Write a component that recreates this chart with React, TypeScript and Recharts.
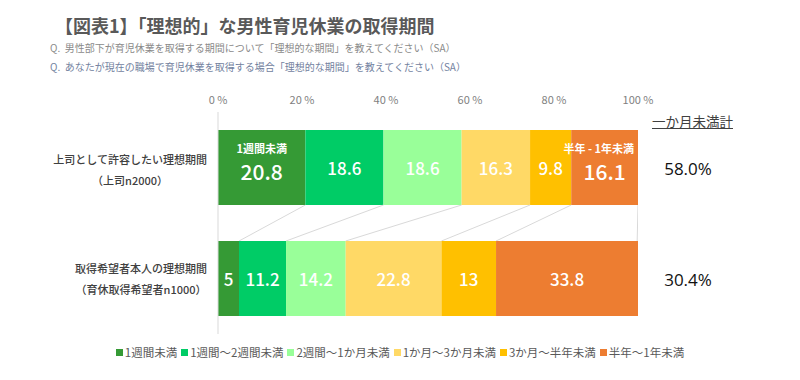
import { Bar, BarChart, LabelList, XAxis, YAxis } from "recharts";

const categories = ["上司として許容したい理想期間", "取得希望者本人の理想期間"];
const sampleLabels = ["（上司n2000）", "（育休取得希望者n1000）"];
const seriesNames = [
  "1週間未満",
  "1週間〜2週間未満",
  "2週間〜1か月未満",
  "1か月〜3か月未満",
  "3か月〜半年未満",
  "半年〜1年未満",
];
const seriesColors = ["#359a35", "#00cc66", "#99ff99", "#ffd966", "#ffc000", "#ed7d31"];
const under1Week = [20.8, 5];
const week1to2 = [18.6, 11.2];
const week2toMonth = [18.6, 14.2];
const month1to3 = [16.3, 22.8];
const month3toHalf = [9.8, 13];
const halfTo1Year = [16.1, 33.8];
const xTicks = [0, 20, 40, 60, 80, 100];
// small captions inside the top bar
const topCaptions: Record<number, string> = { 0: "1週間未満", 5: "半年 - 1年未満" };

const seriesValues = [under1Week, week1to2, week2toMonth, month1to3, month3toHalf, halfTo1Year];
const keys = seriesValues.map((_, i) => `s${i}`);
const data = categories.map((name, row) => {
  const d: Record<string, number | string> = { name };
  seriesValues.forEach((vals, i) => (d[keys[i]] = vals[row]));
  return d;
});
const monthTotals = categories.map((_, row) =>
  seriesValues.slice(0, 3).reduce((a, v) => a + v[row], 0)
);

const W = 800;
const H = 380;
const MARGIN = { top: 82, right: 0, bottom: 46, left: 0 };
const X_AXIS_H = 30;
const BAR_SIZE = 75;
const BAND = (H - MARGIN.top - X_AXIS_H - MARGIN.bottom) / categories.length;
const GAP = BAND - BAR_SIZE;
const FONT = "'Noto Sans CJK JP', 'Noto Sans', sans-serif";

const cum = (row: number, upto: number) =>
  seriesValues.slice(0, upto).reduce((a, v) => a + v[row], 0);

const makeShape = (si: number) => (props: any) => {
  const { x, y, width, height, index } = props;
  const rect = <rect x={x} y={y} width={width} height={height} fill={seriesColors[si]} />;
  if (index !== 0) return rect;
  // connector from top bar boundary to the same boundary on the next row
  const ppu = width / seriesValues[si][0];
  const left = x - cum(0, si) * ppu;
  const x2 = left + cum(1, si + 1) * ppu;
  return (
    <g>
      {rect}
      <line x1={x + width} y1={y + height} x2={x2} y2={y + height + GAP} stroke="#d9d9d9" strokeWidth={1} />
    </g>
  );
};

const makeLabel = (si: number) => (props: any) => {
  const { x, y, width, height, value, index } = props;
  const cx = x + width / 2;
  const cy = y + height / 2;
  const caption = index === 0 ? topCaptions[si] : undefined;
  return (
    <g fontFamily={FONT} fill="#fff">
      {caption && (
        <text
          x={si === 5 ? x + width - 4 : cx}
          y={cy - 20}
          textAnchor={si === 5 ? "end" : "middle"}
          dominantBaseline="central"
          fontSize={11}
          fontWeight={700}
        >
          {caption}
        </text>
      )}
      <text
        x={cx}
        y={caption ? cy + 3 : cy}
        textAnchor="middle"
        dominantBaseline="central"
        fontSize={caption ? 21 : 17}
        fontWeight={500}
      >
        {value}
      </text>
    </g>
  );
};

const LeftTick = (props: any) => {
  const { x, y, payload, index } = props;
  const name = String(payload.value);
  const fs = 11;
  const right = x - 3;
  const center = right - (name.length * fs) / 2;
  const top = index === 0;
  return (
    <g fontFamily={FONT} fontSize={fs} fontWeight={500} fill="#404040">
      <text x={right} y={y + (top ? -9 : -11)} textAnchor="end" dominantBaseline="central">
        {name}
      </text>
      <text x={center} y={y + (top ? 12 : 10)} textAnchor="middle" dominantBaseline="central">
        {sampleLabels[index]}
      </text>
    </g>
  );
};

const RightTick = (props: any) => {
  const { x, y, index } = props;
  return (
    <text
      x={x + 42}
      y={y + 1}
      textAnchor="middle"
      dominantBaseline="central"
      fontFamily="'Open Sans', 'Noto Sans', sans-serif"
      fontSize={17}
      fill="#111"
    >
      {`${monthTotals[index].toFixed(1)}%`}
    </text>
  );
};

const App = () => {
  return (
    <div style={{ position: "absolute", left: 0, top: 0, width: W, height: H, background: "#fff", fontFamily: FONT }}>
      <div style={{ position: "absolute", left: 55, top: 12, fontSize: 18, fontWeight: 700, color: "#595959", whiteSpace: "nowrap" }}>
        【図表1】「理想的」な男性育児休業の取得期間
      </div>
      <div style={{ position: "absolute", left: 50, top: 40, fontSize: 10, color: "#8a8a8a", whiteSpace: "nowrap" }}>
        Q.&nbsp;&nbsp;男性部下が育児休業を取得する期間について「理想的な期間」を教えてください（SA）
      </div>
      <div style={{ position: "absolute", left: 50, top: 59, fontSize: 10, color: "#7382a0", whiteSpace: "nowrap" }}>
        Q.&nbsp;&nbsp;あなたが現在の職場で育児休業を取得する場合「理想的な期間」を教えてください（SA）
      </div>
      <div style={{ position: "absolute", left: 652, top: 111, fontSize: 13.5, color: "#404040", textDecoration: "underline", whiteSpace: "nowrap" }}>
        一か月未満計
      </div>
      <BarChart width={W} height={H} data={data} layout="vertical" margin={MARGIN} barSize={BAR_SIZE}>
        <XAxis
          type="number"
          orientation="top"
          domain={[0, 100]}
          allowDataOverflow
          ticks={xTicks}
          height={X_AXIS_H}
          axisLine={false}
          tickLine={false}
          tick={{ fill: "#7f7f7f", fontSize: 11, fontFamily: FONT }}
          tickFormatter={(v) => `${v} %`}
        />
        <YAxis
          type="category"
          dataKey="name"
          width={218}
          axisLine={{ stroke: "#d9d9d9" }}
          tickLine={false}
          tick={<LeftTick />}
        />
        <YAxis
          yAxisId="total"
          orientation="right"
          type="category"
          dataKey="name"
          width={162}
          axisLine={false}
          tickLine={false}
          tick={<RightTick />}
        />
        {keys.map((k, i) => (
          <Bar
            key={k}
            dataKey={k}
            name={seriesNames[i]}
            stackId="a"
            fill={seriesColors[i]}
            shape={makeShape(i)}
            isAnimationActive={false}
          >
            <LabelList dataKey={k} content={makeLabel(i)} />
          </Bar>
        ))}
      </BarChart>
      <div
        style={{
          position: "absolute",
          left: 0,
          top: 344,
          width: W,
          display: "flex",
          justifyContent: "center",
          gap: 4,
          fontSize: 11.5,
          color: "#595959",
          whiteSpace: "nowrap",
        }}
      >
        {seriesNames.map((n, i) => (
          <span key={n} style={{ display: "flex", alignItems: "center" }}>
            <span style={{ width: 7, height: 7, background: seriesColors[i], marginRight: 2, display: "inline-block" }} />
            {n}
          </span>
        ))}
      </div>
    </div>
  );
};

export default App;
